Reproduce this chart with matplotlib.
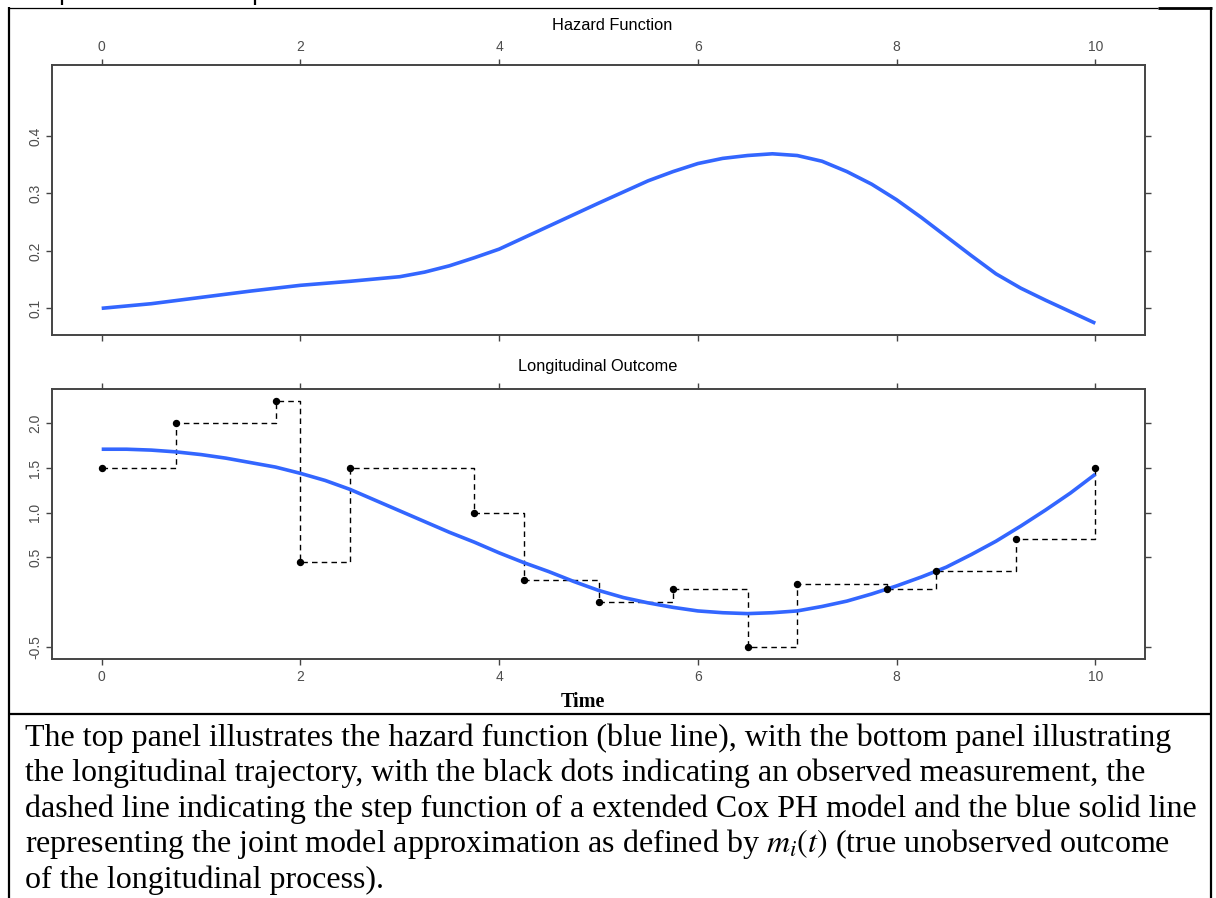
import matplotlib
matplotlib.use("Agg")
import matplotlib.pyplot as plt
from matplotlib.lines import Line2D

# ---------------- data ----------------
hazard_t = [0, 0.5, 1, 1.5, 2, 2.5, 3, 3.25, 3.5, 3.75, 4, 4.5, 5, 5.5, 5.75, 6, 6.25, 6.5,
            6.75, 7, 7.25, 7.5, 7.75, 8, 8.25, 8.5, 8.75, 9, 9.25, 9.5, 9.75, 10]
hazard_h = [0.100, 0.108, 0.119, 0.130, 0.140, 0.147, 0.155, 0.163, 0.174, 0.188, 0.203,
            0.243, 0.283, 0.322, 0.338, 0.352, 0.361, 0.366, 0.369, 0.366, 0.356, 0.338,
            0.316, 0.289, 0.258, 0.225, 0.192, 0.160, 0.135, 0.114, 0.094, 0.074]

obs_t = [0, 0.75, 1.75, 2, 2.5, 3.75, 4.25, 5, 5.75, 6.5, 7, 7.9, 8.4, 9.2, 10]
obs_y = [1.5, 2.0, 2.25, 0.45, 1.5, 1.0, 0.25, 0.0, 0.15, -0.5, 0.2, 0.15, 0.35, 0.7, 1.5]

traj_t = [0, 0.25, 0.5, 0.75, 1, 1.25, 1.5, 1.75, 2, 2.25, 2.5, 2.75, 3, 3.25, 3.5, 3.75, 4,
          4.25, 4.5, 4.75, 5, 5.25, 5.5, 5.75, 6, 6.25, 6.5, 6.75, 7, 7.25, 7.5, 7.75, 8,
          8.25, 8.5, 8.75, 9, 9.25, 9.5, 9.75, 10]
traj_m = [1.71, 1.71, 1.70, 1.68, 1.65, 1.61, 1.56, 1.51, 1.44, 1.36, 1.26, 1.14, 1.02,
          0.90, 0.78, 0.67, 0.55, 0.44, 0.34, 0.23, 0.13, 0.05, -0.01, -0.06, -0.10,
          -0.12, -0.13, -0.12, -0.10, -0.05, 0.01, 0.09, 0.18, 0.28, 0.39, 0.53, 0.68,
          0.85, 1.03, 1.22, 1.43]

x_ticks = [0, 2, 4, 6, 8, 10]
top_yticks = [0.1, 0.2, 0.3, 0.4]
top_ylabels = ["0.1", "0.2", "0.3", "0.4"]
bot_yticks = [-0.5, 0.5, 1.0, 1.5, 2.0]
bot_ylabels = ["-0.5", "0.5", "1.0", "1.5", "2.0"]

caption_lines = [
    "The top panel illustrates the hazard function (blue line), with the bottom panel illustrating",
    "the longitudinal trajectory, with the black dots indicating an observed measurement, the",
    "dashed line indicating the step function of a extended Cox PH model and the blue solid line",
    r"representing the joint model approximation as defined by $m_i(t)$ (true unobserved outcome",
    "of the longitudinal process).",
]

# ---------------- style ----------------
W, H = 1216, 898
plt.rcParams['mathtext.fontset'] = 'stix'
fig = plt.figure(figsize=(W / 100, H / 100), dpi=100)

BLUE = "#3366FF"
AXC = "#444444"
TICKC = "#4D4D4D"
SANS = "Liberation Sans"


def fx(px):
    return px / W


def fy(py):
    return 1 - py / H


def style_axes(ax, labels_top):
    for s in ax.spines.values():
        s.set_color(AXC)
        s.set_linewidth(1.4)
    ax.set_xlim(-0.5, 10.5)
    ax.set_xticks(x_ticks)
    ax.set_xticklabels([str(v) for v in x_ticks])
    ax.tick_params(axis='both', direction='out', length=4, width=1.0, color=AXC,
                   labelcolor=TICKC, labelsize=10)
    ax.tick_params(axis='x', top=True, bottom=True, labeltop=labels_top,
                   labelbottom=not labels_top, pad=4)
    ax.tick_params(axis='y', left=True, right=True, labelleft=True, labelright=False, pad=3)
    for lab in ax.get_xticklabels() + ax.get_yticklabels():
        lab.set_fontfamily(SANS)
    for lab in ax.get_yticklabels():
        lab.set_rotation(90)
        lab.set_va('center')


# top panel
ax1 = fig.add_axes([fx(52), fy(335), fx(1145) - fx(52), (335 - 65) / H])
ax1.plot(hazard_t, hazard_h, color=BLUE, lw=2.6, solid_capstyle='butt',
         solid_joinstyle='round')
ax1.set_ylim(0.0535, 0.5236)
ax1.set_yticks(top_yticks)
ax1.set_yticklabels(top_ylabels)
style_axes(ax1, labels_top=True)
fig.text(fx(612), fy(25), "Hazard Function", ha='center', va='center',
         fontsize=11.8, family=SANS, color='black')

# bottom panel
ax2 = fig.add_axes([fx(52), fy(659), fx(1145) - fx(52), (659 - 389) / H])
ax2.plot(obs_t, obs_y, color='black', lw=1.0, linestyle=(0, (4, 3)), drawstyle='steps-post')
ax2.plot(traj_t, traj_m, color=BLUE, lw=2.6, solid_capstyle='butt', solid_joinstyle='round')
ax2.plot(obs_t, obs_y, 'o', color='black', ms=4.3, zorder=5)
ax2.set_ylim(-0.638, 2.384)
ax2.set_yticks(bot_yticks)
ax2.set_yticklabels(bot_ylabels)
style_axes(ax2, labels_top=False)
fig.text(fx(598), fy(366), "Longitudinal Outcome", ha='center', va='center',
         fontsize=11.8, family=SANS, color='black')
fig.text(fx(583), fy(702), "Time", ha='center', va='center', fontsize=14.5,
         family='Liberation Serif', weight='bold', color='black')

# caption
baselines = [746, 781, 817, 852, 888]
for line, b in zip(caption_lines, baselines):
    fig.text(fx(25), fy(b), line, ha='left', va='baseline', fontsize=23,
             family='Liberation Serif', color='black')

# document frame
def fline(x0, y0, x1, y1, lw):
    fig.add_artist(Line2D([fx(x0), fx(x1)], [fy(y0), fy(y1)], color='black', lw=lw,
                          transform=fig.transFigure, solid_capstyle='butt'))

fline(8, 7.5, 1158, 7.5, 0.9)
fline(1158, 8, 1212, 8, 2.0)
fline(9, 7, 9, 898, 1.6)
fline(1211, 7, 1211, 898, 1.6)
fline(8, 714, 1212, 714, 1.6)
fline(62, 0, 62, 4.5, 1.6)
fline(255, 0, 255, 4.5, 1.6)

fig.savefig("out.png", dpi=100)
